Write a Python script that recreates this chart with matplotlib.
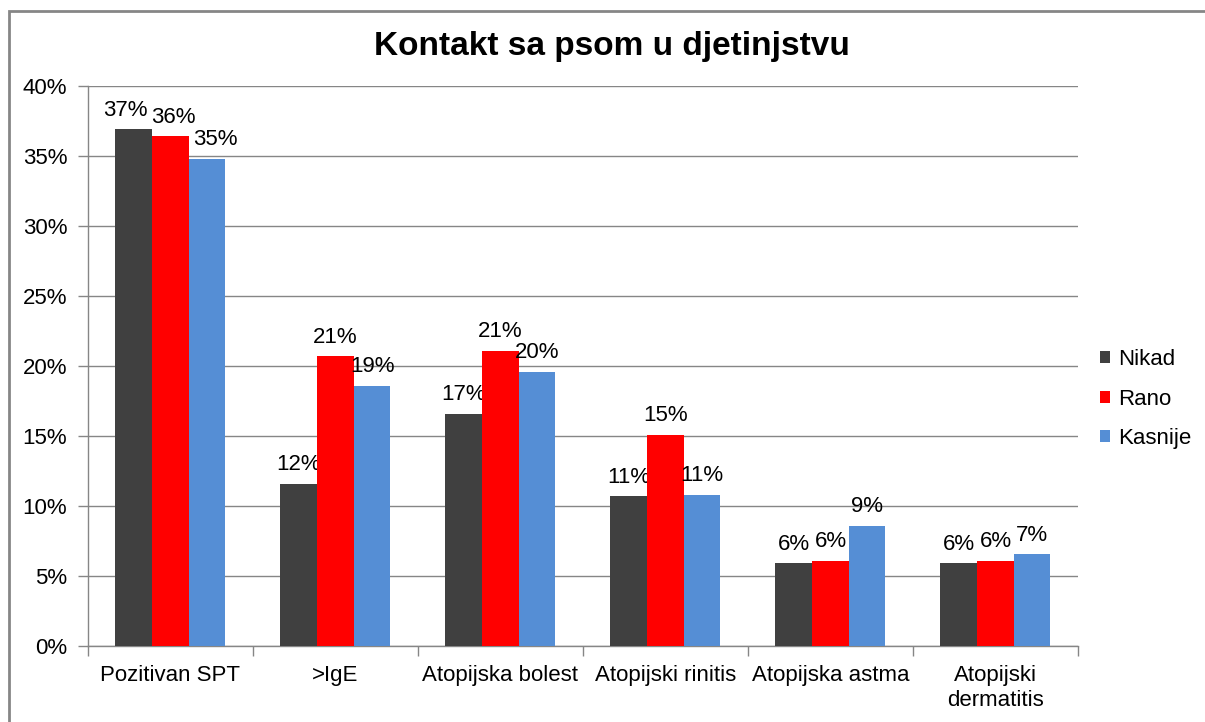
import numpy as np
import matplotlib.pyplot as plt
from matplotlib.patches import Rectangle

plt.rcParams['font.family'] = ['Liberation Sans', 'DejaVu Sans']

# Data (percent).
categories = ['Pozitivan SPT', '>IgE', 'Atopijska bolest', 'Atopijski rinitis',
              'Atopijska astma', 'Atopijski\ndermatitis']
series_names = ['Nikad', 'Rano', 'Kasnije']
nikad = [36.9, 11.6, 16.6, 10.7, 5.9, 5.9]
rano = [36.4, 20.7, 21.1, 15.1, 6.1, 6.1]
kasnije = [34.8, 18.6, 19.6, 10.8, 8.6, 6.55]
colors = ['#404040', '#FF0000', '#558ED5']

# Excel nudged the crowded labels of the first group sideways (points).
first_group_dx = [-6, 2, 6]

fig = plt.figure(figsize=(12.05, 7.22), dpi=100)
ax = fig.add_axes([0.073, 0.1053, 0.8216, 0.7756])

# Outer chart border.
fig.patches.append(Rectangle((9/1205, -0.01), 1.2, 1 - 11/722 + 0.01,
                             transform=fig.transFigure, fill=False,
                             edgecolor='#868686', linewidth=2))

x = np.arange(len(categories))
w = 0.2222
for i, (vals, name) in enumerate(zip([nikad, rano, kasnije], series_names)):
    pos = x + (i - 1) * w
    bars = ax.bar(pos, vals, width=w, color=colors[i], label=name, zorder=3)
    for j, (b, v) in enumerate(zip(bars, vals)):
        dx = first_group_dx[i] if j == 0 else 0
        ax.annotate(f'{v:.0f}%', (b.get_x() + b.get_width() / 2, v),
                    xytext=(dx, 6), textcoords='offset points',
                    ha='center', va='bottom', fontsize=16, color='#000000')

ax.set_xlim(-0.5, len(categories) - 0.5)
ax.set_ylim(0, 40)
ax.set_yticks(np.arange(0, 41, 5))
ax.set_yticklabels([f'{t}%' for t in range(0, 41, 5)], fontsize=16)
ax.yaxis.grid(True, color='#868686', linewidth=1, zorder=0)
ax.set_axisbelow(True)

ax.set_xticks(x)
ax.set_xticklabels(categories, fontsize=16, linespacing=1.25)
ax.tick_params(axis='x', length=0, pad=14)
ax.set_xticks(np.arange(-0.5, len(categories)), minor=True)
ax.tick_params(axis='x', which='minor', length=7, color='#868686', width=1)
ax.tick_params(axis='y', length=7, color='#868686', width=1, pad=8)

for s in ['top', 'right']:
    ax.spines[s].set_visible(False)
for s in ['left', 'bottom']:
    ax.spines[s].set_color('#868686')
    ax.spines[s].set_linewidth(1)

fig.text(612/1205, 1 - 47/722, 'Kontakt sa psom u djetinjstvu', ha='center',
         va='center', fontsize=24, fontweight='bold')

fig.legend(loc='center left', bbox_to_anchor=(1091/1205, 1 - 399/722),
           frameon=False, fontsize=16, handlelength=0.45, handleheight=0.45,
           handletextpad=0.35, labelspacing=0.82, borderaxespad=0)

fig.savefig('out.png', dpi=100)
